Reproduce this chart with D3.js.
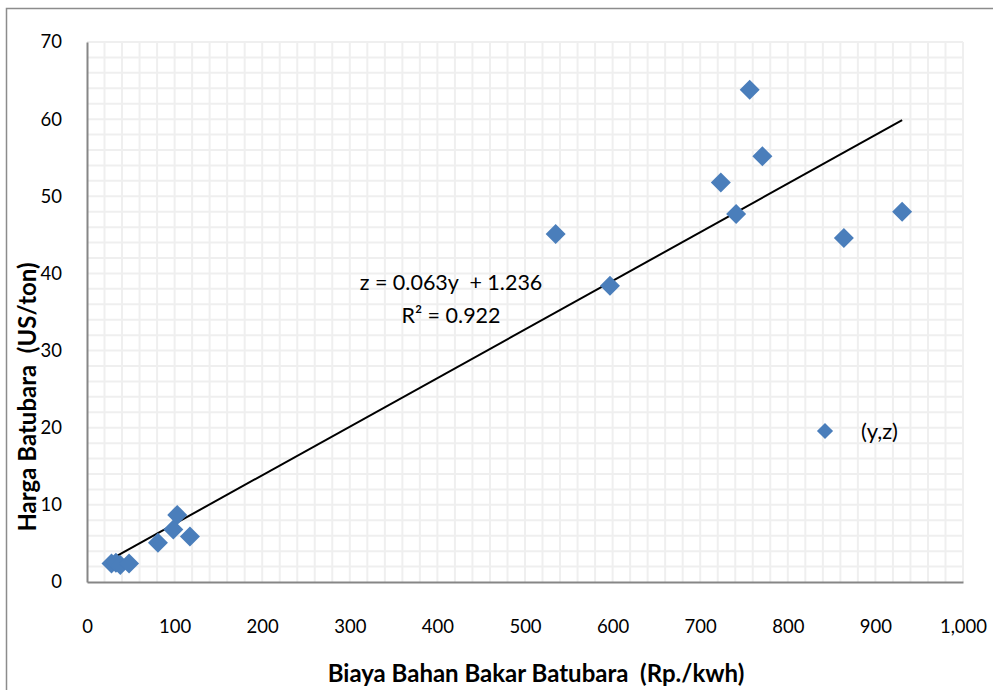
<!DOCTYPE html>
<html>
<head>
<meta charset="utf-8">
<script src="https://cdn.jsdelivr.net/npm/d3@7"></script>
<style>
    body { margin: 0; background: #fff; }
    svg { display: block; font-family: Lato, "Open Sans", sans-serif; }
</style>
</head>
<body>
<div id="chart"></div>
<script>
// Biaya bahan bakar (Rp./kwh) vs harga batubara (US/ton)
const biaya = [28, 33, 38, 48, 81, 98.5, 103, 117.5, 535, 597, 723.5, 741, 756.5, 771, 864, 930.5];
const harga = [2.4, 2.5, 2.2, 2.4, 5.1, 6.8, 8.7, 5.9, 45.1, 38.4, 51.8, 47.7, 63.8, 55.2, 44.6, 48.0];

const xTicks = [0, 100, 200, 300, 400, 500, 600, 700, 800, 900, 1000];
const yTicks = [0, 10, 20, 30, 40, 50, 60, 70];

// trendline z = 0.063y + 1.236
const slope = 0.063;
const intercept = 1.236;
const eqText = "z = 0.063y  + 1.236";
const r2Text = "R² = 0.922";
const legendLabel = "(y,z)";

const width = 993, height = 690;
const margin = { top: 42, right: 30, bottom: 108, left: 87 };

var svg = d3.select("#chart")
    .append("svg")
    .attr("width", width)
    .attr("height", height);

// outer frame
svg.append("rect")
    .attr("x", 6.5)
    .attr("y", 8.5)
    .attr("width", width + 10)
    .attr("height", height + 10)
    .attr("fill", "none")
    .attr("stroke", "#8c8c8c")
    .attr("stroke-width", 1.5);

var x = d3.scaleLinear().domain([0, 1000]).range([margin.left, 963]);
var y = d3.scaleLinear().domain([0, 70]).range([582, margin.top]);

// minor gridlines
var grid = svg.append("g").attr("stroke", "#efefef").attr("stroke-width", 2);
grid.selectAll(".gx")
    .data(d3.range(20, 1001, 20))
    .enter().append("line")
    .attr("x1", d => x(d)).attr("x2", d => x(d))
    .attr("y1", y(0)).attr("y2", y(70));
grid.selectAll(".gy")
    .data(d3.range(2, 71, 2))
    .enter().append("line")
    .attr("x1", x(0)).attr("x2", x(1000))
    .attr("y1", d => y(d)).attr("y2", d => y(d));

// axes
var xAxis = svg.append("g")
    .attr("transform", "translate(0," + y(0) + ")")
    .call(d3.axisBottom(x).tickValues(xTicks).tickSize(0).tickPadding(38)
        .tickFormat(d3.format(",")));
var yAxis = svg.append("g")
    .attr("transform", "translate(" + x(0) + ",0)")
    .call(d3.axisLeft(y).tickValues(yTicks).tickSize(0).tickPadding(25));

[xAxis, yAxis].forEach(function (a) {
    a.select(".domain").attr("stroke", "#868686").attr("stroke-width", 2);
    a.selectAll("text")
        .attr("fill", "#000")
        .style("font-size", "18.5px")
        .style("font-family", "Lato, sans-serif");
});

// trendline
var xMin = d3.min(biaya), xMax = d3.max(biaya);
svg.append("line")
    .attr("x1", x(xMin)).attr("y1", y(slope * xMin + intercept))
    .attr("x2", x(xMax)).attr("y2", y(slope * xMax + intercept))
    .attr("stroke", "#000")
    .attr("stroke-width", 2);

// points
var diamond = d3.symbol().type(d3.symbolSquare).size(200);
svg.selectAll(".pt")
    .data(biaya.map((v, i) => [v, harga[i]]))
    .enter().append("path")
    .attr("class", "pt")
    .attr("d", diamond)
    .attr("transform", d => "translate(" + x(d[0]) + "," + y(d[1]) + ") rotate(45)")
    .attr("fill", "#4a7ebb");

// equation
svg.append("text")
    .attr("x", 451).attr("y", 290)
    .attr("text-anchor", "middle")
    .style("font-size", "21.5px")
    .style("white-space", "pre")
    .text(eqText);
svg.append("text")
    .attr("x", 451).attr("y", 323)
    .attr("text-anchor", "middle")
    .style("font-size", "21.5px")
    .text(r2Text);

// legend
svg.append("path")
    .attr("d", d3.symbol().type(d3.symbolSquare).size(130))
    .attr("transform", "translate(825,431) rotate(45)")
    .attr("fill", "#4a7ebb");
svg.append("text")
    .attr("x", 861).attr("y", 439)
    .style("font-size", "22px")
    .text(legendLabel);

// axis titles
svg.append("text")
    .attr("x", 536).attr("y", 682)
    .attr("text-anchor", "middle")
    .style("font-size", "24px")
    .style("font-weight", "bold")
    .style("white-space", "pre")
    .text("Biaya Bahan Bakar Batubara  (Rp./kwh)");
svg.append("text")
    .attr("transform", "translate(36,397) rotate(-90)")
    .attr("text-anchor", "middle")
    .style("font-size", "24px")
    .style("font-weight", "bold")
    .style("white-space", "pre")
    .text("Harga Batubara  (US/ton)");
</script>
</body>
</html>
